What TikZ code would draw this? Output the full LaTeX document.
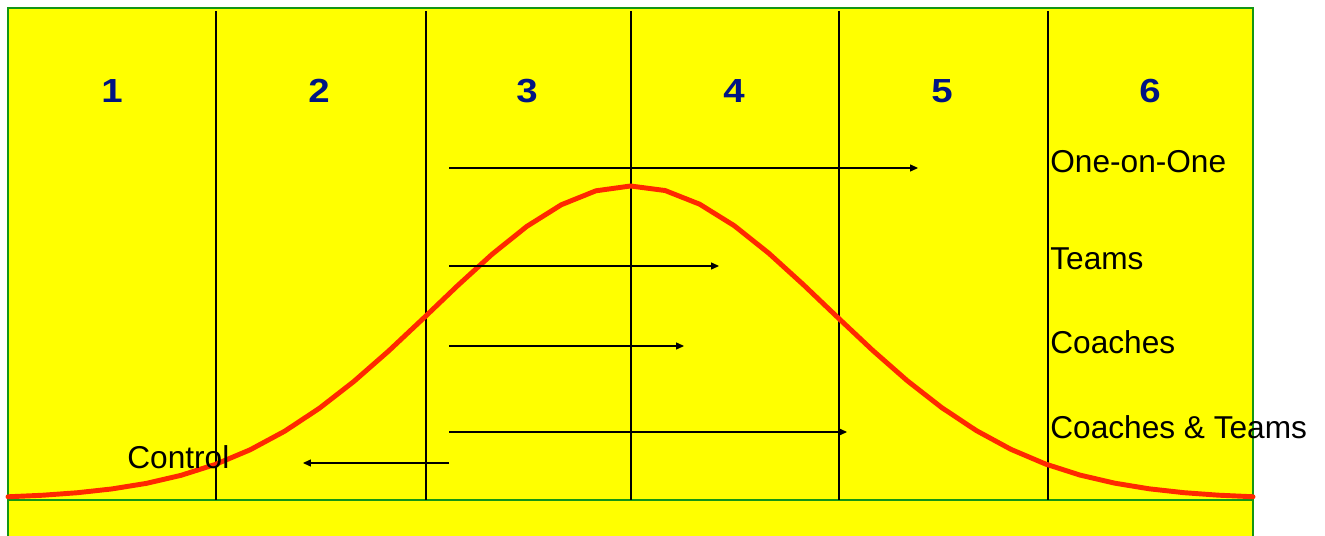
\documentclass[tikz,border=0pt]{standalone}
\usepackage{fontspec}
\setmainfont{Liberation Sans}
\usepackage{xcolor}
\usetikzlibrary{arrows.meta,positioning}
\definecolor{bgyellow}{RGB}{255,255,0}
\definecolor{edgegreen}{RGB}{20,150,20}
\definecolor{numblue}{RGB}{0,20,130}
\definecolor{curvered}{RGB}{255,40,0}
\newcommand{\colnum}[1]{\scalebox{1.15}[1]{#1}}

\begin{document}
\begin{tikzpicture}[
  x=0.02cm, y=-0.02cm,
  col/.style={draw=black, line width=0.9pt},
  num/.style={font=\fontsize{19}{19}\selectfont\bfseries, text=numblue, inner sep=0pt},
  lbl/.style={font=\fontsize{18}{18}\selectfont, anchor=west, inner sep=0pt},
  arr/.style={-{Triangle[length=4.5pt,width=4pt]}, line width=0.6pt},
  curve/.style={draw=curvered, line width=2.8pt, line cap=round}
]
\useasboundingbox (0,0) rectangle (1325,536);
% background panel
\fill[bgyellow] (8,8) rectangle (1253,536);
\draw[edgegreen, line width=0.9pt] (8,536) -- (8,8) -- (1253,8) -- (1253,536);
\draw[edgegreen, line width=0.9pt] (8,500) -- (1253,500);

% column dividers
\draw[col] (216,11) -- (216,500);
\draw[col] (426,11) -- (426,500);
\draw[col] (631,11) -- (631,500);
\draw[col] (839,11) -- (839,500);
\draw[col] (1048,11) -- (1048,500);

% column numbers
\node[num] (n1) at (112,91) {\colnum{1}};
\node[num] (n2) at (319,91) {\colnum{2}};
\node[num] (n3) at (527,91) {\colnum{3}};
\node[num] (n4) at (734,91) {\colnum{4}};
\node[num] (n5) at (942,91) {\colnum{5}};
\node[num] (n6) at (1150,91) {\colnum{6}};

% bell curve
\draw[curve] plot[domain=8:1253, samples=37] (\x, {499-313*exp(-((\x-631)/198)^2/2)});

% labels
\node[lbl] (oneonone) at (1050,162) {One-on-One};
\node[lbl] (teams) at (1050,259) {Teams};
\node[lbl] (coaches) at (1050,342) {Coaches};
\node[lbl] (both) at (1050,427) {Coaches \& Teams};
\node[lbl] (control) at (127,457) {Control};

% shifts
\coordinate (s1) at (449,168);
\coordinate (e1) at (918,168);
\coordinate (s2) at (449,266);
\coordinate (e2) at (719,266);
\coordinate (s3) at (449,346);
\coordinate (e3) at (684,346);
\coordinate (s4) at (449,432);
\coordinate (e4) at (847,432);
\coordinate (s5) at (449,463);
\coordinate (e5) at (303,463);
\draw[arr] (s1) -- (e1);
\draw[arr] (s2) -- (e2);
\draw[arr] (s3) -- (e3);
\draw[arr] (s4) -- (e4);
\draw[arr] (s5) -- (e5);
\end{tikzpicture}
\end{document}
